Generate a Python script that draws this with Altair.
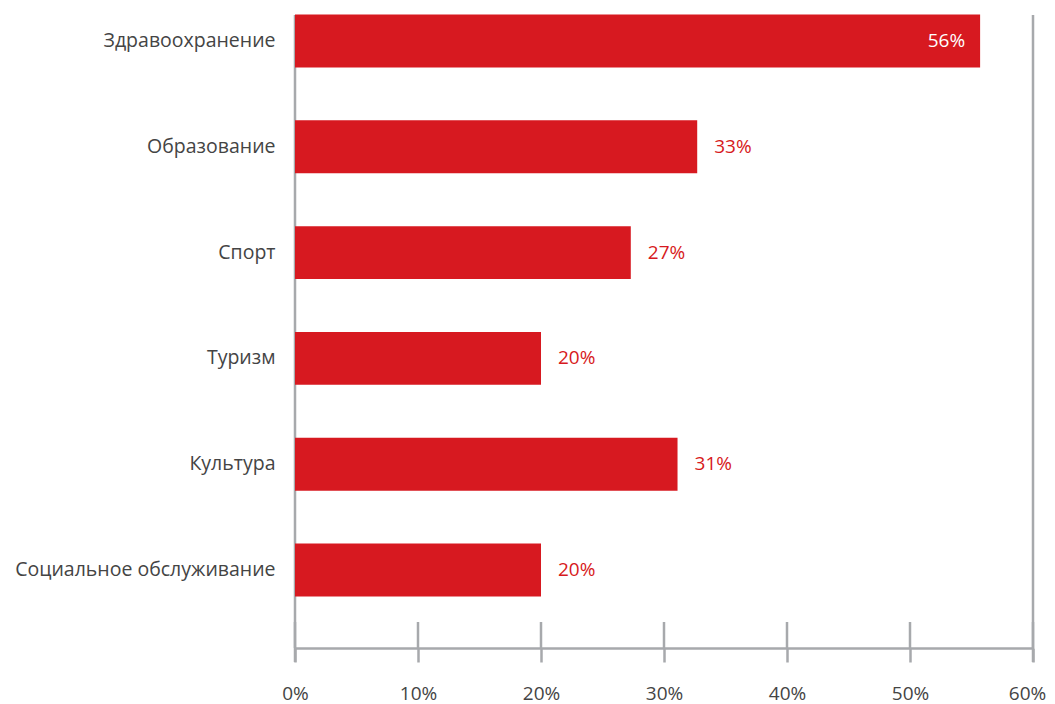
import altair as alt
import pandas as pd

categories = ["Здравоохранение", "Образование", "Спорт", "Туризм", "Культура", "Социальное обслуживание"]
values = [55.7, 32.7, 27.3, 20.0, 31.1, 20.0]
tick_values = [0, 10, 20, 30, 40, 50, 60]

RED = "#d71920"
GRAY = "#a7a9ac"
FONT = "Open Sans"
FS = 19
W, H = 738, 640

df = pd.DataFrame({"cat": categories, "val": values})
ticks_df = pd.DataFrame({"t": tick_values})

xscale = alt.Scale(domain=[0, 60], nice=False)
yscale = alt.Scale(domain=categories, paddingInner=0.5, paddingOuter=0.274, align=0.112)

base = alt.Chart(df)

bars = base.mark_bar(color=RED).encode(
    x=alt.X("val:Q", scale=xscale,
            axis=alt.Axis(values=tick_values, format=".0f", labelExpr="datum.label + '%'",
                          title=None, grid=False, domainColor=GRAY, domainWidth=2.5,
                          tickColor=GRAY, tickWidth=2.5, tickSize=14, labelPadding=22,
                          labelFlush=False, labelOverlap=False,
                          labelOffset={"condition": {"test": "datum.value == 60", "value": -6}, "value": 0},
                          labelFont=FONT, labelFontSize=FS, labelColor="#444444")),
    y=alt.Y("cat:N", scale=yscale, sort=categories,
            axis=alt.Axis(title=None, domain=False, ticks=False, labelPadding=20,
                          labelLimit=0,
                          labelFont=FONT, labelFontSize=19.5, labelColor="#444444")),
)

labels_out = base.transform_filter("datum.val < 50").mark_text(
    align="left", baseline="middle", dx=17, font=FONT, fontSize=FS, color=RED
).encode(
    x="val:Q", y=alt.Y("cat:N", sort=categories),
    text=alt.Text("label:N"),
).transform_calculate(label="format(datum.val, '.0f') + '%'")

labels_in = base.transform_filter("datum.val >= 50").mark_text(
    align="right", baseline="middle", dx=-15, font=FONT, fontSize=FS, color="white"
).encode(
    x="val:Q", y=alt.Y("cat:N", sort=categories),
    text=alt.Text("label:N"),
).transform_calculate(label="format(datum.val, '.0f') + '%'")

frame = alt.Chart(pd.DataFrame({"t": [0, 60]})).mark_rule(color=GRAY, strokeWidth=2.5).encode(
    x=alt.X("t:Q", scale=xscale), y=alt.value(7), y2=alt.value(H + 14)
)

up_ticks = alt.Chart(ticks_df).mark_rule(color=GRAY, strokeWidth=2.5).encode(
    x=alt.X("t:Q", scale=xscale), y=alt.value(H - 26), y2=alt.value(H)
)

chart = alt.layer(frame, up_ticks, bars, labels_out, labels_in).properties(
    width=W, height=H,
    autosize=alt.AutoSizeParams(type="none"),
    padding={"left": 287, "top": 0, "right": 14, "bottom": 56},
).configure_view(stroke=None)

chart.save("out.html", embed_options={"renderer": "svg", "actions": False})
